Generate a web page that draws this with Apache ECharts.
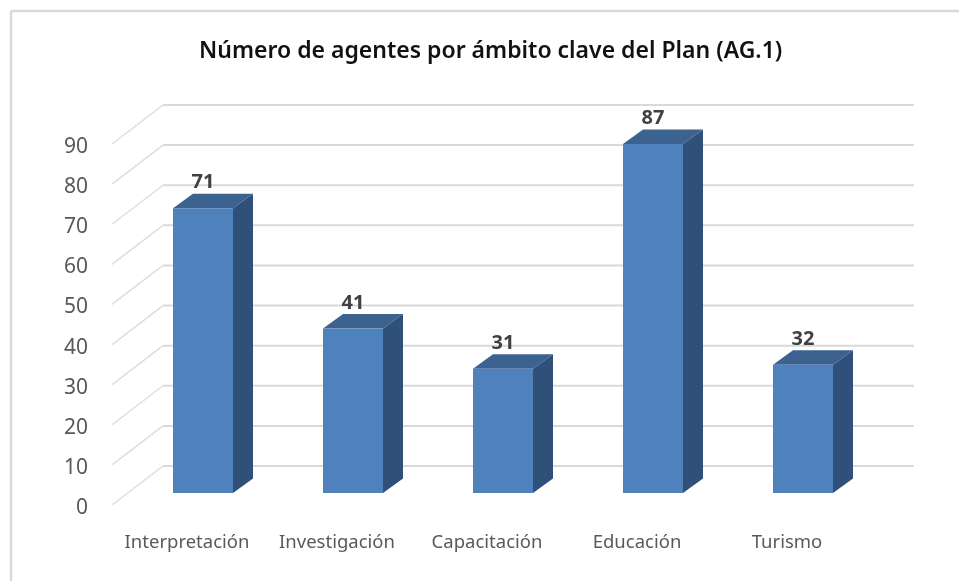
<!DOCTYPE html>
<html><head><meta charset="utf-8">
<style>html,body{margin:0;padding:0;background:#fff}#c{width:959px;height:581px}</style>
<script src="https://cdn.jsdelivr.net/npm/echarts@6/dist/echarts.min.js"></script>
</head><body><div id="c"></div>
<script>
const titleText = 'Número de agentes por ámbito clave del Plan (AG.1)';
const categories = ['Interpretación','Investigación','Capacitación','Educación','Turismo'];
const values = [71,41,31,87,32];
const yTicks = [0,10,20,30,40,50,60,70,80,90];

const FONT = '"Noto Sans", sans-serif';
const WALL = [51,-39], BAR_OFF = [16,-12], BAR_DEPTH = [20,-14.5];
const chart = echarts.init(document.getElementById('c'), null, {renderer:'canvas'});

function renderGrid(params, api){
  const cs = params.coordSys;
  const y = api.coord([0, api.value(1)])[1];
  const x0 = cs.x, bx = x0 + WALL[0], by = y + WALL[1];
  return {type:'group', silent:true, children:[
    {type:'line', shape:{x1:x0,y1:y,x2:bx,y2:by}, style:{stroke:'#dedede', lineWidth:1.5}},
    {type:'line', shape:{x1:bx,y1:by,x2:bx+cs.width+1,y2:by}, style:{stroke:'#d9d9d9', lineWidth:2}}
  ]};
}
function renderBar(params, api){
  const v = api.value(1);
  const top = api.coord([api.value(0), v]);
  const base = api.coord([api.value(0), 0]);
  const w = api.size([1,0])[0]*0.4;
  const l = top[0]+BAR_OFF[0]-w/2, r = l+w;
  const t = top[1]+BAR_OFF[1], b = base[1]+BAR_OFF[1];
  const dx = BAR_DEPTH[0], dy = BAR_DEPTH[1];
  return {type:'group', children:[
    {type:'polygon', shape:{points:[[r,t],[r+dx,t+dy],[r+dx,b+dy],[r,b]]}, style:{fill:'#2f5078'}},
    {type:'polygon', shape:{points:[[l,t],[l+dx,t+dy],[r+dx,t+dy],[r,t]]}, style:{fill:'#3c628f'}},
    {type:'rect', shape:{x:l,y:t,width:w,height:b-t}, style:{fill:'#4f81bd'}},
    {type:'text', style:{text:String(v), x:(l+r)/2, y:t+dy-11, align:'center', verticalAlign:'middle',
      font:'bold 20px '+FONT, fill:'#404040'}}
  ]};
}
chart.setOption({
  animation:false,
  backgroundColor:'#fff',
  title:{text:titleText,left:199,top:40,padding:0,
    textStyle:{fontFamily:FONT,fontSize:23,fontWeight:600,color:'#111'}},
  grid:{left:112,width:750,top:144,height:361},
  xAxis:{type:'category',data:categories,axisLine:{show:false},axisTick:{show:false},
    axisLabel:{margin:28,fontFamily:FONT,fontSize:18.5,color:'#595959',interval:0},splitLine:{show:false}},
  yAxis:{type:'value',min:0,max:90,interval:10,axisLine:{show:false},axisTick:{show:false},
    axisLabel:{margin:24,fontFamily:FONT,fontSize:21,color:'#595959',verticalAlign:'top',lineHeight:6},splitLine:{show:false}},
  graphic:[
    {type:'line',silent:true,shape:{x1:11,y1:11,x2:959,y2:11},style:{stroke:'#d9d9d9',lineWidth:2.5}},
    {type:'line',silent:true,shape:{x1:11,y1:11,x2:11,y2:581},style:{stroke:'#d9d9d9',lineWidth:2.5}}
  ],
  series:[
    {type:'custom',coordinateSystem:'cartesian2d',clip:false,z:1,silent:true,
     renderItem:renderGrid,encode:{x:0,y:1},data:yTicks.map(t=>[0,t])},
    {type:'custom',coordinateSystem:'cartesian2d',clip:false,z:2,silent:true,
     renderItem:renderBar,encode:{x:0,y:1},data:values.map((v,i)=>[i,v])}
  ]
});
</script></body></html>
